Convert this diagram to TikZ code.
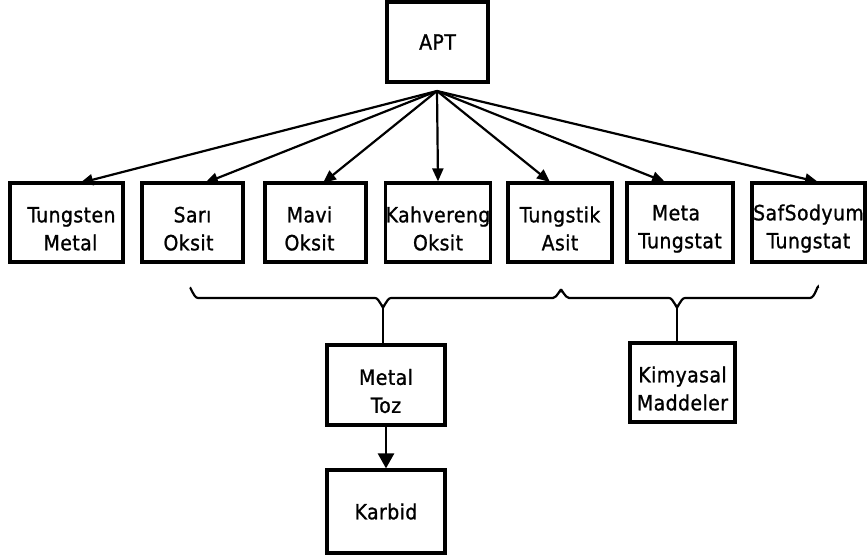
\documentclass[tikz,border=0pt]{standalone}
\usepackage{fontspec}
\setmainfont{DejaVu Sans Condensed}[LetterSpace=2, FakeBold=1]
\usetikzlibrary{arrows.meta}
% taller first line, so two-line labels sit a little low in their boxes
\newcommand\lift{\rule{0pt}{28pt}}
\begin{document}
\begin{tikzpicture}[x=1pt,y=-1pt,
  box/.style={draw, line width=3.2pt, inner sep=0pt, align=center,
    font=\fontsize{21}{28}\selectfont},
  feed/.style={line width=2.2pt, -{Triangle[length=13pt,width=11pt]}},
  tie/.style={line width=2.2pt}]
\useasboundingbox (0,0) rectangle (868,559);

% source
\node[box, minimum width=101pt, minimum height=80pt] (apt) at (437.5,42) {APT};
\coordinate (hub) at (437,91);

% product row
\node[box, minimum width=113pt, minimum height=79pt] (tm) at (66.5,222.5) {\lift\hspace*{10pt}Tungsten\\\hspace*{8pt}Metal};
\node[box, minimum width=101pt, minimum height=79pt] (so) at (192.5,222.5) {\lift Sarı\\Oksit\hspace*{8pt}};
\node[box, minimum width=101pt, minimum height=79pt] (mo) at (315.5,222.5) {\lift Mavi\hspace*{12pt}\\Oksit\hspace*{12pt}};
\node[box, minimum width=104pt, minimum height=79pt] (ko) at (438,222.5) {\lift Kahvereng\\Oksit};
\node[box, minimum width=104pt, minimum height=79pt] (ta) at (560,222.5) {\lift Tungstik\\Asit};
\node[box, minimum width=106pt, minimum height=79pt] (mt) at (680,222.5) {\lift Meta\hspace*{8pt}\\Tungstat};
\node[box, minimum width=113pt, minimum height=79pt] (st) at (808.5,222.5) {\lift SafSodyum\\Tungstat};

% feed lines from the hub
\draw[feed] (hub) -- (80,183);
\draw[feed] (hub) -- (205,183);
\draw[feed] (hub) -- (323,183);
\draw[feed] (hub) -- (ko.north);
\draw[feed] (hub) -- (550,182);
\draw[feed] (hub) -- (665,182);
\draw[feed] (hub) -- (818,182);

% grouping braces
\coordinate (c1) at (383,306);
\coordinate (c2) at (677,306);
\draw[tie] (190,289) to[out=90,in=180] (198,298) -- (375,298)
  to[out=0,in=-90] (c1) to[out=-90,in=180] (391,298) -- (553,298)
  to[out=0,in=90] (561,291) to[out=90,in=180] (569,298) -- (669,298)
  to[out=0,in=-90] (c2) to[out=-90,in=180] (685,298) -- (810,298)
  to[out=0,in=90] (818,288);

% lower row
\node[box, minimum width=118pt, minimum height=80pt] (mz) at (386,385) {\lift Metal\\Toz};
\node[box, minimum width=105pt, minimum height=79pt] (km) at (682.5,382.5) {\lift Kimyasal\\Maddeler};
\node[box, minimum width=118pt, minimum height=83pt] (kb) at (386,511.5) {Karbid};

\draw[tie] (c1) -- (c1 |- mz.north);
\draw[tie] (c2) -- (c2 |- km.north);
\draw[feed, line width=2.6pt, -{Triangle[length=15pt,width=16pt]}] (mz.south) -- (kb.north);
\end{tikzpicture}
\end{document}
